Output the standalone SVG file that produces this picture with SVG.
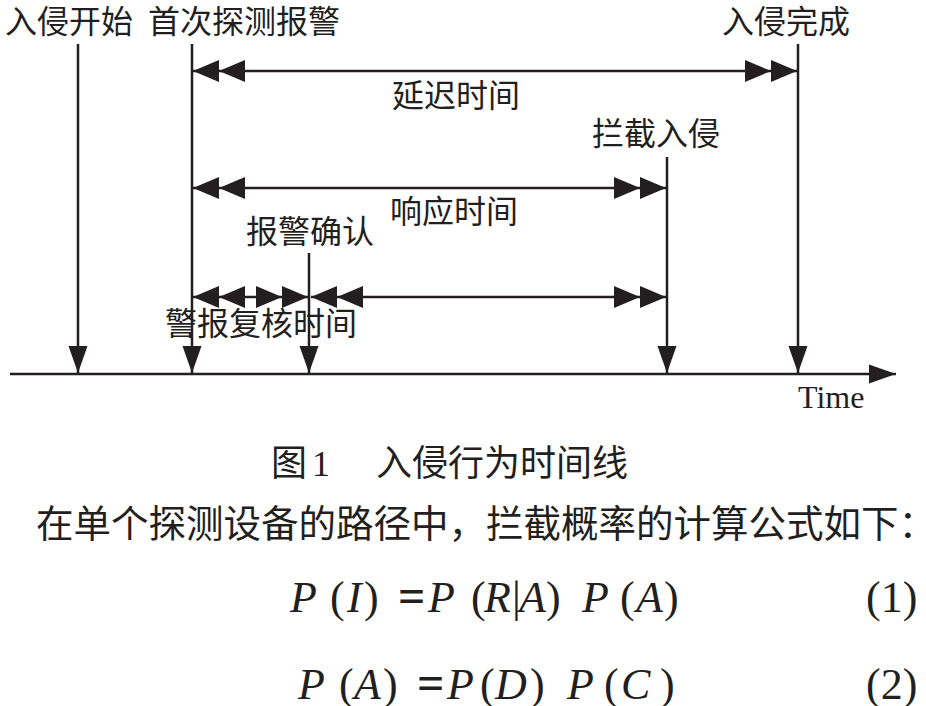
<svg xmlns="http://www.w3.org/2000/svg" width="926" height="706" viewBox="0 0 926 706">
<style>
.ln{stroke:#231f20;stroke-width:2.5;fill:none}
.cj{font-family:"Noto Sans CJK SC","Noto Sans",sans-serif;font-size:32px;fill:#231f20}
.cap{font-family:"Noto Sans CJK SC","Noto Sans",sans-serif;font-size:36px;fill:#231f20}
.body{font-family:"Noto Sans CJK SC","Noto Sans",sans-serif;font-size:37.5px;fill:#231f20}
.tm{font-family:"Liberation Serif","Times New Roman",serif;font-size:32px;fill:#231f20}
.fi{font-family:"Liberation Serif","Times New Roman",serif;font-size:44px;font-style:italic;fill:#231f20}
.fr{font-family:"Liberation Serif","Times New Roman",serif;font-size:44px;fill:#231f20}
.fb{font-family:"Liberation Serif","Times New Roman",serif;font-size:48px;font-weight:bold;fill:#231f20}
</style>
<defs>
<marker id="dbl" markerUnits="userSpaceOnUse" markerWidth="60" markerHeight="30" viewBox="-55 -15 60 30" refX="0" refY="0" orient="auto-start-reverse" overflow="visible">
<path d="M0,0 L-26,-11 L-26,11 Z M-26,0 L-52,-11 L-52,11 Z" fill="#231f20"/>
</marker>
<marker id="sgl" markerUnits="userSpaceOnUse" markerWidth="30" markerHeight="30" viewBox="-30 -15 30 30" refX="0" refY="0" orient="auto" overflow="visible">
<path d="M0,0 L-27,-9.5 L-27,9.5 Z" fill="#231f20"/>
</marker>
</defs>
<rect width="926" height="706" fill="#fff"/>

<g id="connectors">
<line class="ln" x1="10" y1="374" x2="896" y2="374" marker-end="url(#sgl)"/>
<line class="ln" x1="78" y1="44" x2="78" y2="373" marker-end="url(#sgl)"/>
<line class="ln" x1="192" y1="44" x2="192" y2="373" marker-end="url(#sgl)"/>
<line class="ln" x1="309" y1="253" x2="309" y2="373" marker-end="url(#sgl)"/>
<line class="ln" x1="667" y1="157" x2="667" y2="373" marker-end="url(#sgl)"/>
<line class="ln" x1="798" y1="44" x2="798" y2="373" marker-end="url(#sgl)"/>
<line class="ln" x1="193" y1="71" x2="797" y2="71" marker-start="url(#dbl)" marker-end="url(#dbl)"/>
<line class="ln" x1="193" y1="188" x2="666" y2="188" marker-start="url(#dbl)" marker-end="url(#dbl)"/>
<line class="ln" x1="193" y1="297" x2="308" y2="297" marker-start="url(#dbl)" marker-end="url(#dbl)"/>
<line class="ln" x1="311" y1="297" x2="666" y2="297" marker-start="url(#dbl)" marker-end="url(#dbl)"/>
</g>

<g id="n-start"><text class="cj" x="5" y="33">入侵开始</text></g>
<g id="n-detect"><text class="cj" x="148" y="33">首次探测报警</text></g>
<g id="n-complete"><text class="cj" x="722" y="33">入侵完成</text></g>
<g id="n-delay"><text class="cj" x="392" y="107">延迟时间</text></g>
<g id="n-intercept"><text class="cj" x="592" y="145">拦截入侵</text></g>
<g id="n-response"><text class="cj" x="390" y="223">响应时间</text></g>
<g id="n-confirm"><text class="cj" x="246" y="243">报警确认</text></g>
<g id="n-review"><text class="cj" x="165" y="335">警报复核时间</text></g>
<g id="n-time"><text class="tm" x="798" y="408">Time</text></g>

<g id="caption">
<text class="cap" x="271" y="476">图</text>
<text class="fr" x="312" y="476" style="font-size:36px">1</text>
<text class="cap" x="376" y="476">入侵行为时间线</text>
</g>
<g id="body">
<text class="body" x="36" y="537">在单个探测设备的路径中，拦截概率的计算公式如下：</text>
</g>

<g id="formula1">
<text class="fi" x="290" y="612">P</text>
<text class="fr" x="330" y="612">(</text>
<text class="fi" x="347" y="612">I</text>
<text class="fr" x="364" y="612">)</text>
<text class="fb" x="398" y="612">=</text>
<text class="fi" x="428" y="612">P</text>
<text class="fr" x="471" y="612">(</text>
<text class="fi" x="484" y="612">R</text>
<text class="fr" x="512" y="612">|</text>
<text class="fi" x="519" y="612">A</text>
<text class="fr" x="546" y="612">)</text>
<text class="fi" x="582" y="612">P</text>
<text class="fr" x="620" y="612">(</text>
<text class="fi" x="636" y="612">A</text>
<text class="fr" x="664" y="612">)</text>
<text class="fr" x="866" y="612">(1)</text>
</g>
<g id="formula2">
<text class="fi" x="298" y="699">P</text>
<text class="fr" x="339" y="699">(</text>
<text class="fi" x="354" y="699">A</text>
<text class="fr" x="383" y="699">)</text>
<text class="fb" x="417" y="699">=</text>
<text class="fi" x="447" y="699">P</text>
<text class="fr" x="480" y="699">(</text>
<text class="fi" x="495" y="699">D</text>
<text class="fr" x="530" y="699">)</text>
<text class="fi" x="567" y="699">P</text>
<text class="fr" x="604" y="699">(</text>
<text class="fi" x="621" y="699">C</text>
<text class="fr" x="660" y="699">)</text>
<text class="fr" x="866" y="699">(2)</text>
</g>
</svg>
